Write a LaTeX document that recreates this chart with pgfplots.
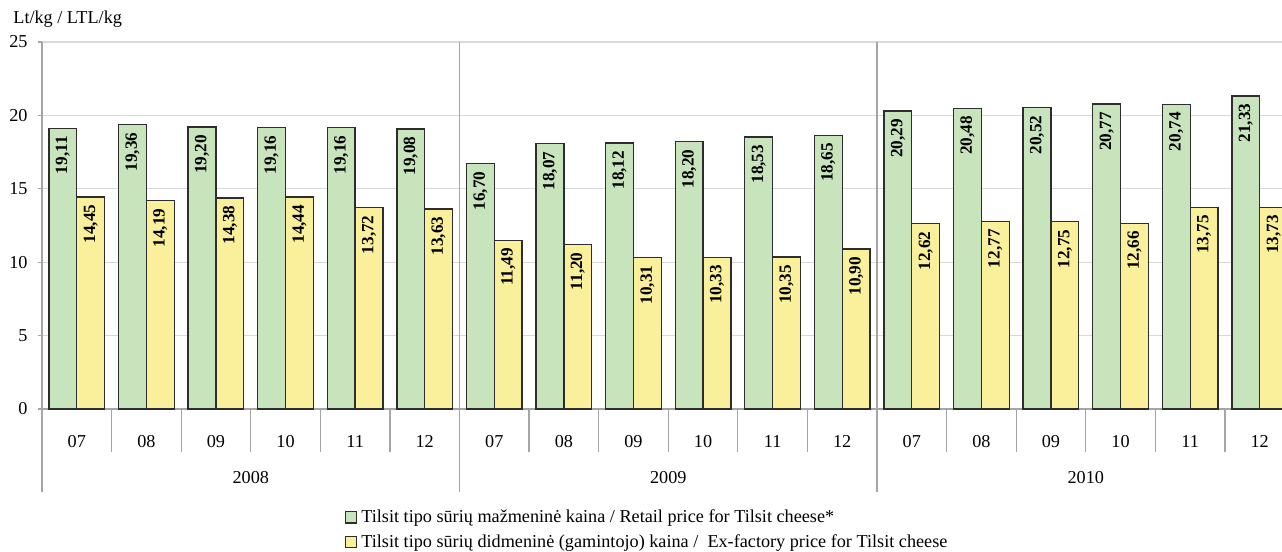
\documentclass[border=0pt]{standalone}
\usepackage{fontspec}
\setmainfont{Liberation Serif}
\usepackage{pgfplots}
\pgfplotsset{compat=1.18}
\usetikzlibrary{calc}
\definecolor{grn}{RGB}{200,228,188}
\definecolor{ylw}{RGB}{250,240,155}
\definecolor{axgray}{RGB}{165,165,165}
\definecolor{gridgray}{RGB}{217,217,217}
\definecolor{barline}{RGB}{45,45,45}
\pgfplotsset{sqlegend/.style={legend image code/.code={\draw[##1, line width=0.6pt] (0pt,-2.8pt) rectangle (5.6pt,2.8pt);}}}
\begin{document}
\fontsize{9.1pt}{10.8pt}\selectfont
\begin{tikzpicture}
\begin{axis}[
  scale only axis, width=620pt, height=183.5pt,
  xmin=-0.5, xmax=17.32, ymin=0, ymax=25,
  clip=false,
  axis x line=bottom, axis y line=left,
  axis line style={draw=axgray, line width=0.6pt, -},
  ytick={0,5,...,25},
  ymajorgrids, grid style={gridgray, line width=0.6pt},
  tick align=outside, major tick length=2pt,
  ytick style={draw=axgray, line width=0.6pt},
  yticklabel style={xshift=-2pt},
  xtick={0,...,17},
  xticklabels={07,08,09,10,11,12,07,08,09,10,11,12,07,08,09,10,11,12},
  xtick style={draw=none},
  xticklabel style={anchor=base, yshift=-17pt},
  /pgf/number format/assume math mode=true,
  ybar=0pt, bar width=0.4,
  nodes near coords={\pgfmathprintnumber[use comma,fixed,fixed zerofill,precision=2,assume math mode=true]{\pgfplotspointmeta}},
  every node near coord/.append style={rotate=90, anchor=east, font=\fontsize{8.6pt}{10pt}\selectfont\bfseries, inner sep=3.6pt},
  legend style={at={(0.244,-0.262)}, anchor=north west, draw=none, fill=none, row sep=0.6pt, inner sep=0pt},
  legend cell align=left,
]
\addplot[fill=grn, draw=barline, line width=0.65pt, bar shift=-0.2, sqlegend]
  coordinates {(0,19.11) (1,19.36) (2,19.20) (3,19.16) (4,19.16) (5,19.08)
   (6,16.70) (7,18.07) (8,18.12) (9,18.20) (10,18.53) (11,18.65)
   (12,20.29) (13,20.48) (14,20.52) (15,20.77) (16,20.74) (17,21.33)};
\addlegendentry{Tilsit tipo sūrių mažmeninė kaina / Retail price for Tilsit cheese*}
\addplot[fill=ylw, draw=barline, line width=0.65pt, bar shift=0.2, sqlegend]
  coordinates {(0,14.45) (1,14.19) (2,14.38) (3,14.44) (4,13.72) (5,13.63)
   (6,11.49) (7,11.20) (8,10.31) (9,10.33) (10,10.35) (11,10.90)
   (12,12.62) (13,12.77) (14,12.75) (15,12.66) (16,13.75) (17,13.73)};
\addlegendentry{Tilsit tipo sūrių didmeninė (gamintojo) kaina /\ \ Ex-factory price for Tilsit cheese}
% separators
\pgfplotsinvokeforeach{0.5,1.5,2.5,3.5,4.5,6.5,7.5,8.5,9.5,10.5,12.5,13.5,14.5,15.5,16.5}{
  \draw[axgray, line width=0.6pt] (axis cs:#1,0) -- ++(0pt,-21.5pt);
}
\draw[axgray, line width=0.6pt] (axis cs:-0.5,0) -- ++(0pt,-41.5pt);
\draw[axgray, line width=0.6pt] (axis cs:5.5,25) -- (axis cs:5.5,0) -- ++(0pt,-41.5pt);
\draw[axgray, line width=0.6pt] (axis cs:11.5,25) -- (axis cs:11.5,0) -- ++(0pt,-41.5pt);
\node[anchor=base] at ($(axis cs:2.5,0)+(0pt,-37.4pt)$) {2008};
\node[anchor=base] at ($(axis cs:8.5,0)+(0pt,-37.4pt)$) {2009};
\node[anchor=base] at ($(axis cs:14.5,0)+(0pt,-37.4pt)$) {2010};
\node[anchor=base west, inner sep=0pt] at ($(rel axis cs:0,1)+(-14.5pt,9.5pt)$) {Lt/kg / LTL/kg};
\end{axis}
\pgfresetboundingbox
\path[use as bounding box] (-21pt,-71.5pt) rectangle (620pt,204.5pt);
\end{tikzpicture}
\end{document}
